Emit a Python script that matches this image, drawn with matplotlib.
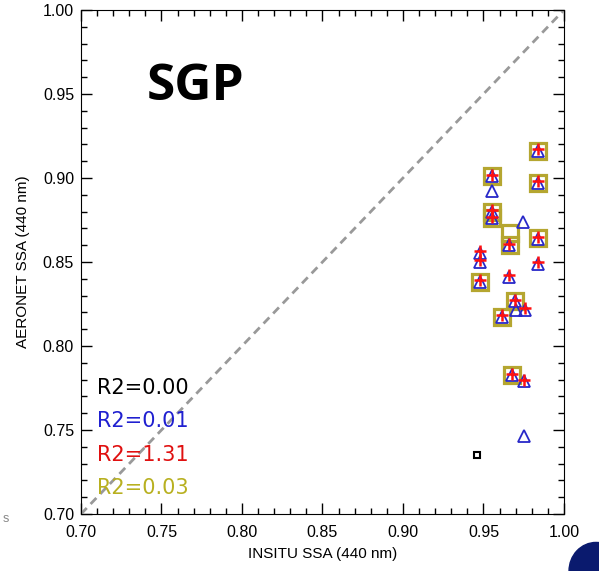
import numpy as np
import matplotlib
matplotlib.use("Agg")
import matplotlib.pyplot as plt
from matplotlib.ticker import MultipleLocator
from matplotlib.patches import Ellipse

plt.rcParams['font.family'] = ['Liberation Sans', 'DejaVu Sans']

# blue triangles
tri_x = [0.984, 0.984, 0.984, 0.984, 0.955, 0.955, 0.955, 0.955, 0.9745, 0.966, 0.948,
         0.948, 0.948, 0.966, 0.9695, 0.970, 0.9755, 0.9615, 0.968, 0.975, 0.975]
tri_y = [0.916, 0.897, 0.8635, 0.849, 0.901, 0.892, 0.880, 0.876, 0.874, 0.860, 0.8555,
         0.850, 0.838, 0.841, 0.8265, 0.8215, 0.8215, 0.8175, 0.7825, 0.779, 0.7465]
# red plus
plus_x = [0.984, 0.984, 0.984, 0.984, 0.955, 0.955, 0.955, 0.966, 0.948,
          0.948, 0.948, 0.966, 0.9695, 0.9755, 0.9615, 0.968, 0.975]
plus_y = [0.917, 0.898, 0.865, 0.850, 0.902, 0.881, 0.877, 0.861, 0.8565,
          0.851, 0.839, 0.842, 0.8275, 0.8225, 0.8185, 0.7835, 0.780]
# olive squares
sq_x = [0.984, 0.984, 0.984, 0.955, 0.955, 0.955, 0.9665, 0.9665, 0.948, 0.9695, 0.9615, 0.968]
sq_y = [0.916, 0.897, 0.864, 0.901, 0.880, 0.876, 0.867, 0.860, 0.838, 0.8265, 0.8175, 0.7825]
# black squares
blk_x = [0.946]
blk_y = [0.735]

r2_labels = ["R2=0.00", "R2=0.01", "R2=1.31", "R2=0.03"]
r2_colors = ["black", "#2020d0", "#e01010", "#b8b020"]

fig = plt.figure(figsize=(5.99, 5.71), dpi=100)
ax = fig.add_axes([0.1352, 0.0998, 0.8063, 0.8827])

ax.plot([0.7, 1.0], [0.7, 1.0], linestyle=(0, (3, 2)), color="#999999", lw=2)
ax.plot(sq_x, sq_y, 's', ms=12, mfc='none', mec='#b5a630', mew=2.3)
ax.plot(tri_x, tri_y, '^', ms=8.5, mfc='none', mec='#2828c8', mew=1.3)
ax.plot(plus_x, plus_y, '+', ms=9, color='#ff1010', mew=1.8)
ax.plot(blk_x, blk_y, 's', ms=4.5, mfc='none', mec='black', mew=1.5)

ax.set_xlim(0.7, 1.0)
ax.set_ylim(0.7, 1.0)
ax.xaxis.set_major_locator(MultipleLocator(0.05))
ax.yaxis.set_major_locator(MultipleLocator(0.05))
ax.xaxis.set_minor_locator(MultipleLocator(0.01))
ax.yaxis.set_minor_locator(MultipleLocator(0.01))
ax.tick_params(which='both', direction='in', top=True, right=True, labelsize=11.5, width=1)
ax.tick_params(which='major', length=8)
ax.tick_params(which='minor', length=4)
ax.tick_params(axis='x', which='major', pad=8)
ax.tick_params(axis='y', which='major', pad=5)
ax.xaxis.set_major_formatter(plt.FormatStrFormatter('%.2f'))
ax.yaxis.set_major_formatter(plt.FormatStrFormatter('%.2f'))
ax.set_xlabel("INSITU SSA (440 nm)", fontsize=11, labelpad=5)
ax.set_ylabel("AERONET SSA (440 nm)", fontsize=11, labelpad=9)

for i, (lab, c) in enumerate(zip(r2_labels, r2_colors)):
    ax.text(0.710, 0.7752 - i * 0.0200, lab, color=c, fontsize=15,
            family=['DejaVu Sans'], va='center')

ax.text(0.741, 0.954, "SGP", fontsize=37, fontweight='bold', family=['Open Sans', 'DejaVu Sans'],
        va='center')

fig.patches.append(Ellipse((0.995, 0.0), 0.09, 0.1, transform=fig.transFigure,
                           color='#0a1a6e', figure=fig))
fig.text(0.005, 0.085, "s", fontsize=9, color='#888888')

fig.savefig("out.png", dpi=100)
